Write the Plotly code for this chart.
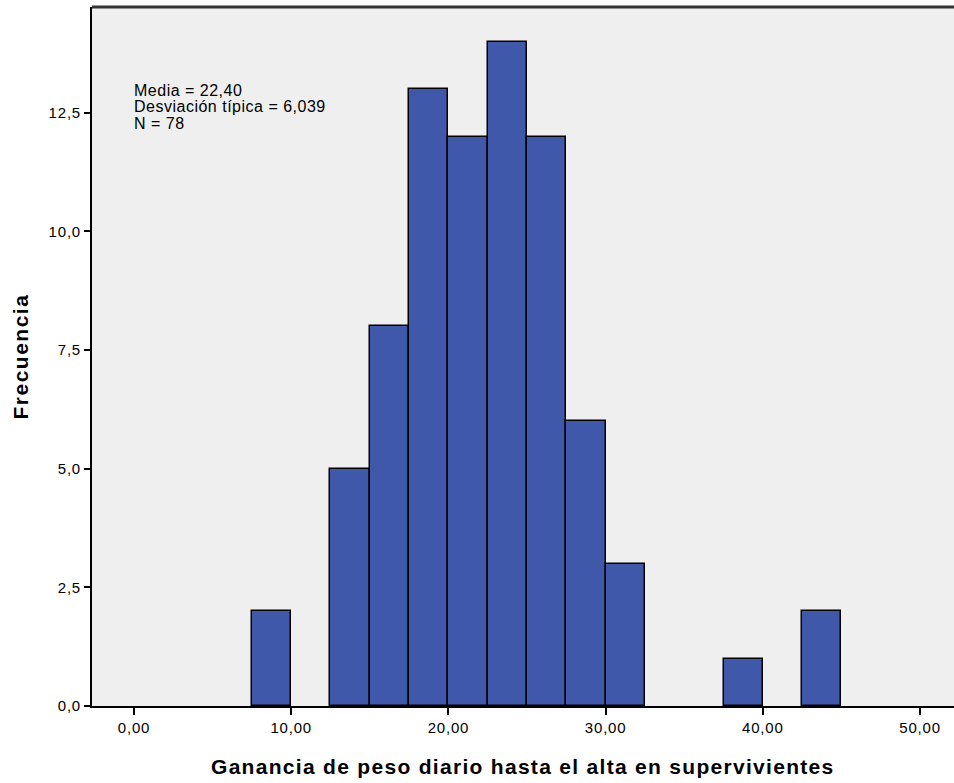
import plotly.graph_objects as go

bin_centers = [8.75, 13.75, 16.25, 18.75, 21.25, 23.75, 26.25, 28.75, 31.25, 38.75, 43.75]
frequencies = [2, 5, 8, 13, 12, 14, 12, 6, 3, 1, 2]
bin_width = 2.5

x_tickvals = [0, 10, 20, 30, 40, 50]
x_ticktext = ["0,00", "10,00", "20,00", "30,00", "40,00", "50,00"]
y_tickvals = [0, 2.5, 5, 7.5, 10, 12.5]
y_ticktext = ["0,0", "2,5", "5,0", "7,5", "10,0", "12,5"]

stats_lines = ["Media = 22,40", "Desviación típica = 6,039", "N = 78"]

FONT = "Liberation Sans, Arial, sans-serif"


def sp(text, px):
    return f'<span style="letter-spacing:{px}px">{text}</span>'


fig = go.Figure()
fig.add_trace(go.Bar(
    x=bin_centers, y=frequencies, width=[bin_width] * len(bin_centers),
    marker=dict(color="#3F58AA", line=dict(color="black", width=1.5)),
    showlegend=False, hoverinfo="x+y",
))

fig.update_layout(
    width=954, height=783,
    margin=dict(l=92, r=0, t=7, b=77),
    paper_bgcolor="white", plot_bgcolor="#EFEFEF",
    font=dict(family=FONT, size=15, color="black"),
    bargap=0,
    xaxis=dict(
        range=[-2.67, 52.16], tickvals=x_tickvals,
        ticktext=[sp(t, 0.8) for t in x_ticktext],
        ticks="outside", ticklen=7, tickwidth=2, tickcolor="black",
        showline=True, linecolor="black", linewidth=2,
        showgrid=False, zeroline=False, tickfont=dict(size=15),
    ),
    yaxis=dict(
        range=[0, 14.73], tickvals=y_tickvals,
        ticktext=[sp(t, 0.8) for t in y_ticktext],
        ticks="outside", ticklen=6, tickwidth=2, tickcolor="black",
        showline=True, linecolor="black", linewidth=2,
        showgrid=False, zeroline=False, tickfont=dict(size=15),
    ),
    shapes=[dict(type="line", xref="paper", yref="paper", x0=0, x1=1, y0=1, y1=1,
                 line=dict(color="#333333", width=3))],
)

for i, line in enumerate(stats_lines):
    fig.add_annotation(
        x=0, y=13.1 - i * 0.35, xref="x", yref="y", text=sp(line, 0.5), showarrow=False,
        xanchor="left", yanchor="middle", xshift=-2, yshift=-6,
        font=dict(size=16, family=FONT),
    )

fig.add_annotation(
    x=0.5, y=-(767 - 706) / 699, xref="paper", yref="paper",
    text="<b>" + sp("Ganancia de peso diario hasta el alta en supervivientes", 1.3) + "</b>",
    showarrow=False, xanchor="center", yanchor="middle", font=dict(size=21, family=FONT),
)
fig.add_annotation(
    x=-(92 - 20) / 862, y=0.5, xref="paper", yref="paper",
    text="<b>" + sp("Frecuencia", 1.5) + "</b>", textangle=-90,
    showarrow=False, xanchor="center", yanchor="middle", font=dict(size=21, family=FONT),
)

fig.write_html("out.html")
